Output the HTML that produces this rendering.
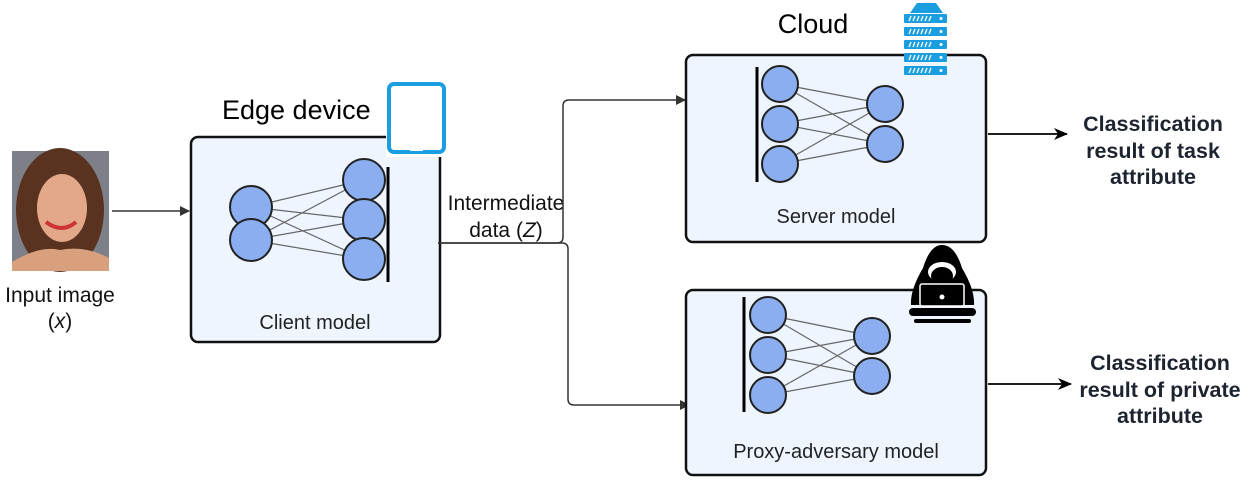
<!DOCTYPE html>
<html><head><meta charset="utf-8"><style>body{margin:0;background:#fff}svg{display:block}</style></head><body>
<svg width="1250" height="482" viewBox="0 0 1250 482" xmlns="http://www.w3.org/2000/svg" font-family="Liberation Sans, sans-serif">
<defs>
<marker id="a" markerWidth="10" markerHeight="10" refX="9" refY="5" orient="auto" markerUnits="userSpaceOnUse"><path d="M0,0 L10,5 L0,10 z" fill="#333"/></marker>
<marker id="b" markerWidth="14" markerHeight="12" refX="13" refY="6" orient="auto" markerUnits="userSpaceOnUse"><path d="M0,0 L14,6 L0,12 L4,6 z" fill="#000"/></marker>
</defs>
<!-- input image -->
<rect x="12" y="151" width="97" height="120" fill="#7d8088"/>
<ellipse cx="60" cy="210" rx="44" ry="62" fill="#5a3320"/>
<ellipse cx="62" cy="208" rx="25" ry="34" fill="#e3a88a"/>
<path d="M46,222 Q62,234 76,222" stroke="#c33" stroke-width="4" fill="none"/>
<path d="M12,271 L12,262 Q40,245 60,250 Q85,245 109,258 L109,271 z" fill="#d9a07e"/>
<text x="60" y="302" font-size="21" text-anchor="middle" fill="#111">Input image</text>
<text x="60" y="328" font-size="21" text-anchor="middle" fill="#111">(<tspan font-style="italic">x</tspan>)</text>
<line x1="112" y1="211" x2="189" y2="211" stroke="#333" stroke-width="1.5" marker-end="url(#a)"/>
<!-- client -->
<rect x="191" y="137" width="249" height="205" rx="7" fill="#eef5ff" stroke="#111" stroke-width="2.5"/>
<text x="222" y="119" font-size="27" fill="#000">Edge device</text>
<rect x="386" y="82" width="60" height="75" fill="#fff"/>
<rect x="389" y="84" width="55" height="68" rx="5" fill="#fff" stroke="#1a9ee0" stroke-width="4"/>
<rect x="410" y="148" width="13" height="3" fill="#fff"/>
<g stroke="#666" stroke-width="1.2">
<line x1="251" y1="207" x2="364" y2="180"/><line x1="251" y1="207" x2="364" y2="220"/><line x1="251" y1="207" x2="364" y2="259"/>
<line x1="251" y1="240" x2="364" y2="180"/><line x1="251" y1="240" x2="364" y2="220"/><line x1="251" y1="240" x2="364" y2="259"/>
</g>
<g fill="#8aaef0" stroke="#222" stroke-width="2">
<circle cx="251" cy="207" r="21"/><circle cx="251" cy="240" r="21"/>
<circle cx="364" cy="180" r="21"/><circle cx="364" cy="220" r="21"/><circle cx="364" cy="259" r="21"/>
</g>
<line x1="388" y1="167" x2="388" y2="282" stroke="#000" stroke-width="3"/>
<text x="315" y="329" font-size="20" text-anchor="middle" fill="#222">Client model</text>
<!-- intermediate -->
<text x="506" y="210" font-size="21" text-anchor="middle" fill="#111">Intermediate</text>
<text x="506" y="237" font-size="21" text-anchor="middle" fill="#111">data (<tspan font-style="italic">Z</tspan>)</text>
<path d="M438,243 H557 Q563,243 563,237 V106 Q563,100 569,100 H685" fill="none" stroke="#333" stroke-width="1.5" marker-end="url(#a)"/>
<path d="M438,243 H562 Q568,243 568,249 V399 Q568,405 574,405 H689" fill="none" stroke="#333" stroke-width="1.5" marker-end="url(#a)"/>
<!-- server -->
<rect x="686" y="55" width="300" height="187" rx="7" fill="#eef5ff" stroke="#111" stroke-width="2.5"/>
<text x="813" y="33" font-size="27" text-anchor="middle" fill="#000">Cloud</text>
<g fill="#1a9ee0">
<path d="M910,13 L917,3 L936,3 L943,13 z"/>
<rect x="904" y="14" width="43" height="9" rx="1"/><rect x="904" y="27" width="43" height="9" rx="1"/><rect x="904" y="40" width="43" height="9" rx="1"/><rect x="904" y="53" width="43" height="9" rx="1"/><rect x="904" y="66" width="43" height="9" rx="1"/>
</g>
<g stroke="#fff" stroke-width="1.3">
<path d="M909,21 l2,-5 M913,21 l2,-5 M917,21 l2,-5 M921,21 l2,-5 M925,21 l2,-5 M929,21 l2,-5"/>
<path d="M909,34 l2,-5 M913,34 l2,-5 M917,34 l2,-5 M921,34 l2,-5 M925,34 l2,-5 M929,34 l2,-5"/>
<path d="M909,47 l2,-5 M913,47 l2,-5 M917,47 l2,-5 M921,47 l2,-5 M925,47 l2,-5 M929,47 l2,-5"/>
<path d="M909,60 l2,-5 M913,60 l2,-5 M917,60 l2,-5 M921,60 l2,-5 M925,60 l2,-5 M929,60 l2,-5"/>
<path d="M909,73 l2,-5 M913,73 l2,-5 M917,73 l2,-5 M921,73 l2,-5 M925,73 l2,-5 M929,73 l2,-5"/>
</g>
<g fill="#fff"><circle cx="941" cy="18.5" r="1.5"/><circle cx="941" cy="31.5" r="1.5"/><circle cx="941" cy="44.5" r="1.5"/><circle cx="941" cy="57.5" r="1.5"/><circle cx="941" cy="70.5" r="1.5"/></g>
<g stroke="#666" stroke-width="1.2">
<line x1="780" y1="84" x2="885" y2="104"/><line x1="780" y1="84" x2="885" y2="144"/>
<line x1="780" y1="124" x2="885" y2="104"/><line x1="780" y1="124" x2="885" y2="144"/>
<line x1="780" y1="164" x2="885" y2="104"/><line x1="780" y1="164" x2="885" y2="144"/>
</g>
<g fill="#8aaef0" stroke="#222" stroke-width="2">
<circle cx="780" cy="84" r="18"/><circle cx="780" cy="124" r="18"/><circle cx="780" cy="164" r="18"/>
<circle cx="885" cy="104" r="18"/><circle cx="885" cy="144" r="18"/>
</g>
<line x1="757" y1="67" x2="757" y2="182" stroke="#000" stroke-width="3"/>
<text x="836" y="223" font-size="20" text-anchor="middle" fill="#222">Server model</text>
<!-- proxy -->
<rect x="686" y="290" width="300" height="185" rx="7" fill="#eef5ff" stroke="#111" stroke-width="2.5"/>
<g stroke="#666" stroke-width="1.2">
<line x1="768" y1="315" x2="872" y2="336"/><line x1="768" y1="315" x2="872" y2="376"/>
<line x1="768" y1="355" x2="872" y2="336"/><line x1="768" y1="355" x2="872" y2="376"/>
<line x1="768" y1="395" x2="872" y2="336"/><line x1="768" y1="395" x2="872" y2="376"/>
</g>
<g fill="#8aaef0" stroke="#222" stroke-width="2">
<circle cx="768" cy="315" r="18"/><circle cx="768" cy="355" r="18"/><circle cx="768" cy="395" r="18"/>
<circle cx="872" cy="336" r="18"/><circle cx="872" cy="376" r="18"/>
</g>
<line x1="744" y1="297" x2="744" y2="412" stroke="#000" stroke-width="3"/>
<text x="836" y="458" font-size="20" text-anchor="middle" fill="#222">Proxy-adversary model</text>
<!-- hacker -->
<g>
<path d="M942,245 Q955,245 962,268 Q975,290 974,305 L911,305 Q910,290 923,268 Q930,245 942,245 z" fill="#000"/>
<ellipse cx="942" cy="272" rx="14" ry="10" fill="#fff"/>
<ellipse cx="942" cy="276" rx="11" ry="9" fill="#000"/>
<rect x="920" y="284" width="44" height="22" rx="2" fill="#000" stroke="#fff" stroke-width="1.5"/>
<circle cx="942" cy="297" r="2.5" fill="#fff"/>
<rect x="909" y="308" width="67" height="8" rx="4" fill="#000"/>
<rect x="914" y="319" width="57" height="4" rx="2" fill="#000"/>
</g>
<!-- outputs -->
<line x1="988" y1="134" x2="1067" y2="134" stroke="#000" stroke-width="1.8" marker-end="url(#b)"/>
<line x1="988" y1="384" x2="1071" y2="384" stroke="#000" stroke-width="1.8" marker-end="url(#b)"/>
<g font-size="21.5" font-weight="bold" fill="#1d2430" text-anchor="middle">
<text x="1153" y="131">Classification</text>
<text x="1153" y="158">result of task</text>
<text x="1153" y="184">attribute</text>
<text x="1160" y="370">Classification</text>
<text x="1160" y="397">result of private</text>
<text x="1160" y="423">attribute</text>
</g>
</svg>
</body></html>
